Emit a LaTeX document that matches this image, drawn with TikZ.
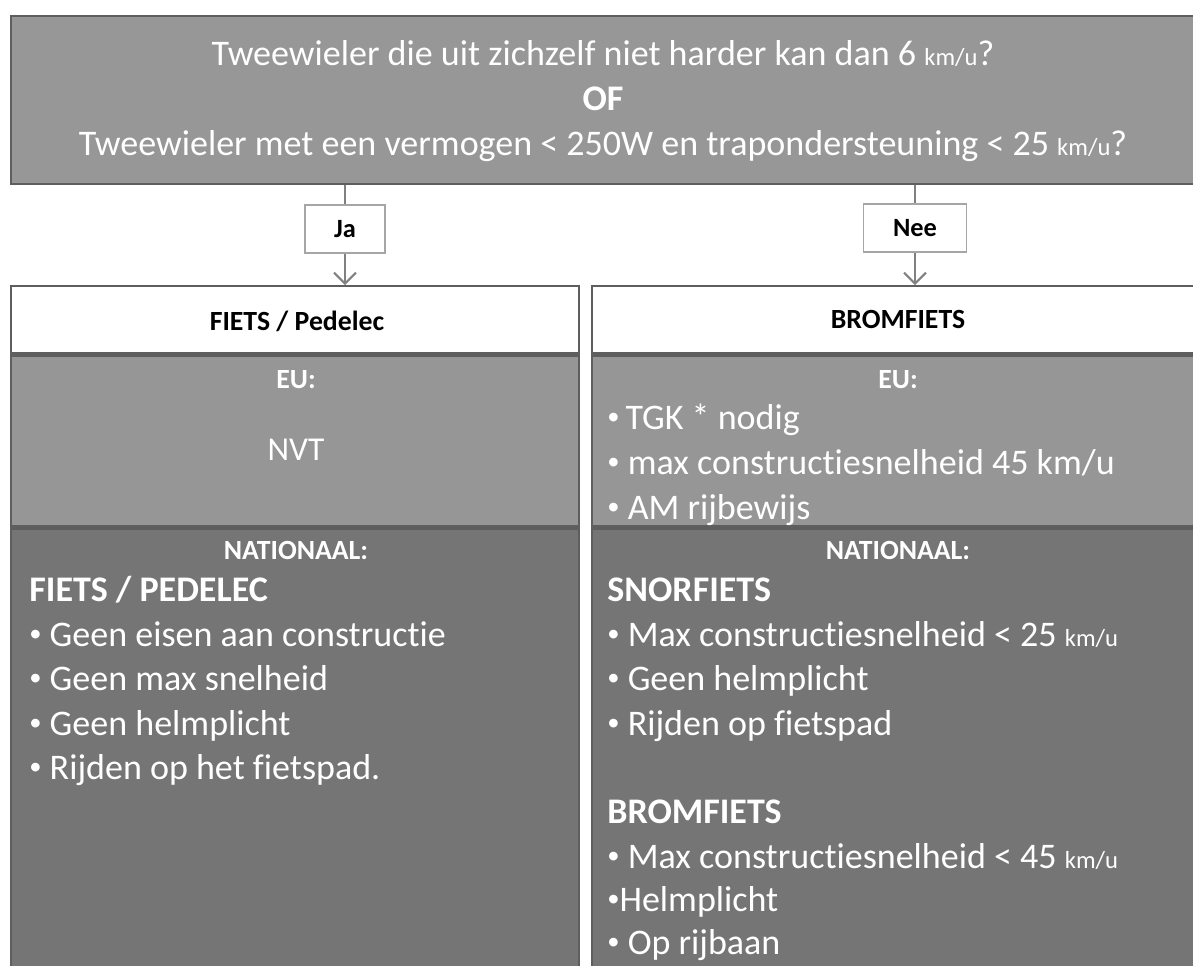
\documentclass[tikz,border=0pt]{standalone}
\usepackage{fontspec}
\setmainfont{Carlito}[Ligatures=NoCommon]
\usetikzlibrary{arrows.meta,positioning}
\definecolor{vraaggrijs}{HTML}{979797}
\definecolor{eugrijs}{HTML}{969696}
\definecolor{natgrijs}{HTML}{757575}
\definecolor{rand}{HTML}{5E5E5E}
\definecolor{lijn}{HTML}{808080}
\newcommand\kmu{{\fontsize{14}{14}\selectfont km/u}}
\newcommand\stip{\raisebox{0.12em}{\fontsize{14}{14}\selectfont•}}
\tikzset{
  vak/.style={draw=rand,line width=1.3pt,inner sep=0pt,anchor=north west},
  keuze/.style={draw=lijn!70,fill=white,line width=0.6pt,inner sep=0pt,minimum height=0.96cm,font=\fontsize{15}{15}\selectfont\bfseries},
  verbinding/.style={draw=lijn,line width=1.2pt},
  wit/.style={text=white,inner sep=0pt},
  kopje/.style={wit,font=\fontsize{15.8}{15.8}\selectfont\bfseries},
  titel/.style={font=\fontsize{15.8}{15.8}\selectfont\bfseries},
  punt/.style={wit,anchor=base west,font=\fontsize{20.5}{20.5}\selectfont},
}
\begin{document}
\begin{tikzpicture}[x=0.02cm,y=-0.02cm]
\useasboundingbox (0,0) rectangle (1193,965);
\node[vak,fill=vraaggrijs,minimum width=23.9cm,minimum height=3.36cm] (vraag) at (10,15) {};
\node[wit,align=center,font=\fontsize{20.5}{25.6}\selectfont] (vraagtekst) at (603,101)
  {Tweewieler die uit zichzelf niet harder kan dan 6 \kmu?\\ \textbf{OF}\\
   Tweewieler met een vermogen < 250W en trapondersteuning < 25 \kmu?};
\foreach \k/\x/\w in {fiets/10/11.36,brom/591/12.3}{
  \node[vak,fill=white,minimum width=\w cm,minimum height=1.34cm] (\k-kop) at (\x,285) {};
  \node[vak,fill=eugrijs,minimum width=\w cm,minimum height=3.42cm] (\k-eu) at (\k-kop.south west) {};
  \node[vak,fill=natgrijs,minimum width=\w cm,minimum height=9.2cm] (\k-nat) at (\k-eu.south west) {};
}
\node[keuze,minimum width=1.6cm] (ja) at (345,229) {Ja};
\node[keuze,minimum width=2.06cm] (nee) at (915,228) {Nee};
\foreach \n/\p in {ja/fiets,nee/brom}{
  \draw[verbinding] (vraag.south -| \n) -- (\n);
  \draw[verbinding,-{Straight Barb[length=2.2mm,width=4.4mm,line width=1.2pt]}] (\n) -- (\n |- \p-kop.north);
}
\node[titel] (fiets-titel) at (297,321) {FIETS / Pedelec};
\node[titel] (brom-titel) at (898,319) {BROMFIETS};
\foreach \k/\x in {fiets/296,brom/898}{
  \node[kopje] (\k-eukop) at (\x,380) {EU:};
  \node[kopje] (\k-natkop) at (\x,550) {NATIONAAL:};
}
\node[wit,font=\fontsize{19}{19}\selectfont] (nvt) at (296,450) {NVT};
\foreach \y/\gt[count=\i] in {601/{\textbf{FIETS / PEDELEC}},646/{\stip\ Geen eisen aan constructie},690/{\stip\ Geen max snelheid},735/{\stip\ Geen helmplicht},779/{\stip\ Rijden op het fietspad.}}
  \node[punt] (fiets-\i) at (29,\y) {\gt};
\foreach \y/\gt[count=\i] in {429/{\stip\,TGK * nodig},474/{\stip\ max constructiesnelheid 45 km/u},519/{\stip\ AM rijbewijs}}
  \node[punt] (brom-eu-\i) at (607,\y) {\gt};
\foreach \y/\gt[count=\i] in {601/{\textbf{SNORFIETS}},646/{\stip\ Max constructiesnelheid < 25 \kmu},690/{\stip\ Geen helmplicht},735/{\stip\ Rijden op fietspad},823/{\textbf{BROMFIETS}},868/{\stip\ Max constructiesnelheid < 45 \kmu},911/{\stip Helmplicht},954/{\stip\ Op rijbaan}}
  \node[punt] (brom-\i) at (607,\y) {\gt};
\end{tikzpicture}
\end{document}
